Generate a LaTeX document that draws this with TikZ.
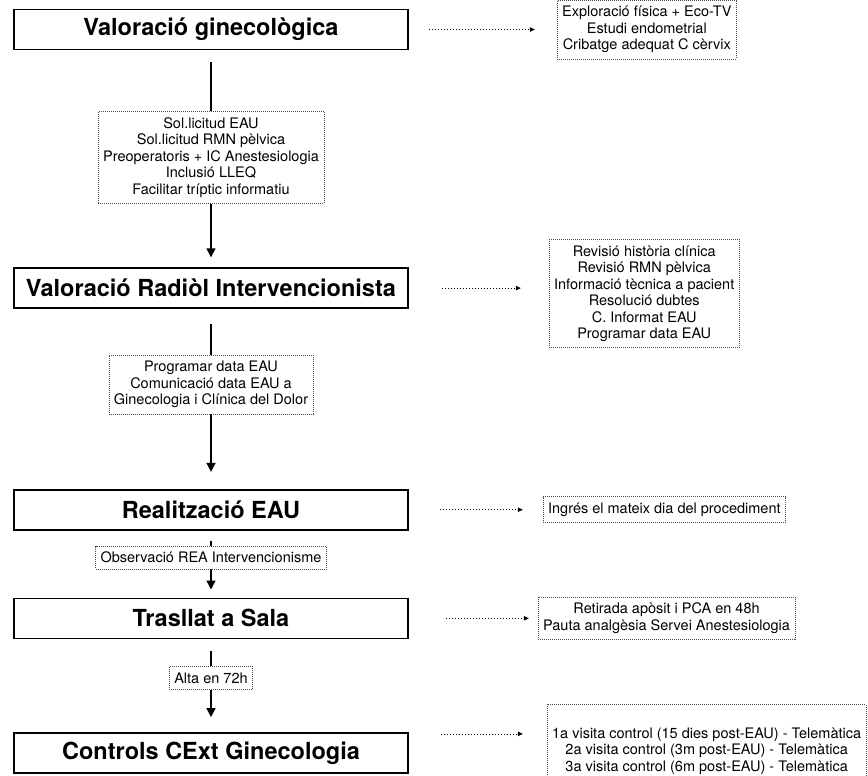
\documentclass[tikz,border=0pt]{standalone}
\usepackage{fontspec}
\setmainfont{TeX Gyre Heros}
\usetikzlibrary{positioning,arrows.meta}

\begin{document}
\begin{tikzpicture}[thick,
    main/.style = {draw, line width=1.6pt, minimum width=394pt, minimum height=40pt, font=\fontsize{23.5}{28}\selectfont\bfseries},
    side/.style = {draw=black!70, dash pattern=on 1pt off 1pt, line width=0.7pt, align=center, inner xsep=5pt, inner ysep=6pt, font=\fontsize{14.5}{16.5}\selectfont},
    stem/.style = {line width=1.5pt},
    flow/.style = {line width=1.5pt, -{Triangle[length=9pt,width=9pt]}},
    link/.style = {line width=0.8pt, dash pattern=on 1.5pt off 1.5pt, -{Triangle[length=5pt,width=4.5pt]}}]
            \useasboundingbox (0,0) rectangle (868pt,-776pt);
            \node[main] (1) at (211pt,-29.5pt) {Valoració ginecològica};
            \node[side] (1a) [below=61pt of 1] {Sol.licitud EAU\\Sol.licitud RMN pèlvica\\Preoperatoris + IC Anestesiologia\\Inclusió LLEQ\\Facilitar tríptic informatiu};
            \node[main] (2) [below=217pt of 1] {Valoració Radiòl Intervencionista};
            \node[side] (2a) [below=46pt of 2] {Programar data EAU\\Comunicació data EAU a\\Ginecologia i Clínica del Dolor};
            \node[main] (3) [below=180pt of 2] {Realització EAU};
            \node[side] (3a) [below=15pt of 3] {Observació REA Intervencionisme};
            \node[main] (4) [below=67pt of 3] {Trasllat a Sala};
            \node[side] (4a) [below=27pt of 4] {Alta en 72h};
            \node[main] (5) [below=93pt of 4] {Controls CExt Ginecologia};
            \node[side] (1r) [right=148pt of 1] {Exploració física + Eco-TV\\Estudi endometrial\\Cribatge adequat C cèrvix};
            \node[side] (2r) [right=140pt of 2, yshift=-5.5pt] {Revisió història clínica\\Revisió RMN pèlvica\\Informació tècnica a pacient\\Resolució dubtes\\C. Informat EAU\\Programar data EAU};
            \node[side] (3r) [right=134pt of 3] {Ingrés el mateix dia del procediment};
            \node[side] (4r) [right=129pt of 4] {Retirada apòsit i PCA en 48h\\Pauta analgèsia Servei Anestesiologia};
            \node[side] (5r) [right=138pt of 5, yshift=10.5pt] {\strut\\1a visita control (15 dies post-EAU) - Telemàtica\\2a visita control (3m post-EAU) - Telemàtica\\3a visita control (6m post-EAU) - Telemàtica};
            \draw[stem, shorten <=12pt] (1) -- (1a);
            \draw[flow, shorten >=10pt] (1a) -- (2);
            \draw[stem, shorten <=15pt] (2) -- (2a);
            \draw[flow, shorten >=17pt] (2a) -- (3);
            \draw[stem, shorten <=10pt] (3) -- (3a);
            \draw[flow, shorten >=8pt] (3a) -- (4);
            \draw[stem, shorten <=12pt] (4) -- (4a);
            \draw[flow, shorten >=15pt] (4a) -- (5);
            \draw[link, shorten <=20pt, shorten >=22pt] (1.east) -- (1.east -| 1r.west);
            \draw[link, shorten <=33pt, shorten >=28pt] (2.east) -- (2.east -| 2r.west);
            \draw[link, shorten <=31pt, shorten >=20pt] (3.east) -- (3.east -| 3r.west);
            \draw[link, shorten <=37pt, shorten >=9pt] (4.east) -- (4.east -| 4r.west);
            \draw[link, shorten <=32pt, shorten >=24pt] ([yshift=19pt]5.east) -- ([yshift=19pt]5.east -| 5r.west);
        \end{tikzpicture}
\end{document}
